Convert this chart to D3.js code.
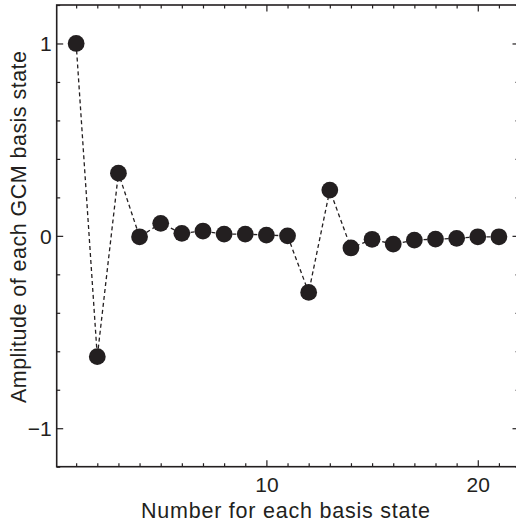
<!DOCTYPE html>
<html>
<head>
<meta charset="utf-8">
<script src="https://cdn.jsdelivr.net/npm/d3@7"></script>
<style>
  html, body { margin: 0; padding: 0; background: #fff; }
  svg { display: block; }
  text { font-family: "Liberation Sans", Arial, Helvetica, sans-serif; fill: #231f20; }
</style>
</head>
<body>
<svg id="chart" width="516" height="527"></svg>
<script>
// Data
const stateNumbers = [1,2,3,4,5,6,7,8,9,10,11,12,13,14,15,16,17,18,19,20,21];
const amplitudes = [1.0, -0.628, 0.326, -0.005, 0.065, 0.013, 0.025, 0.009, 0.009, 0.004, 0.0,
                    -0.294, 0.238, -0.063, -0.018, -0.043, -0.022, -0.017, -0.013, -0.005, -0.005];
const xMajorTicks = [10, 20];
const yMajorTicks = [-1, 0, 1];
const xTitle = "Number for each basis state";
const yTitle = "Amplitude of each GCM basis state";

(function () {
const svg = d3.select("#chart");
const mLeft = 56.7, mRight = 519, mTop = 5, mBottom = 466.7;
const ink = "#231f20";

const x = d3.scaleLinear().domain([0.08, 21.95]).range([mLeft, mRight]);
const y = d3.scaleLinear().domain([-1.2, 1.2]).range([mBottom, mTop]);

const xMinor = d3.range(1, 22);
const yMinor = d3.range(-12, 13, 2).map(v => v / 10);
const isMajY = d => yMajorTicks.some(m => Math.abs(m - d) < 1e-9);

function fmt(d) { return d < 0 ? "\u2212" + Math.abs(d) : String(d); }

const gx = svg.append("g").attr("transform", `translate(0,${mBottom})`);
gx.call(d3.axisBottom(x).tickValues(xMinor).tickSize(-3.5).tickFormat(""));
gx.selectAll(".tick").filter(d => xMajorTicks.includes(d)).select("line").attr("y2", -6.5);
gx.selectAll(".tick").filter(d => xMajorTicks.includes(d)).append("text")
  .attr("y", 25).attr("text-anchor", "middle").attr("font-size", 21).attr("fill", ink)
  .text(d => fmt(d));

const gxt = svg.append("g").attr("transform", `translate(0,${mTop})`);
gxt.call(d3.axisTop(x).tickValues(xMinor).tickSize(-3.5).tickFormat(""));
gxt.selectAll(".tick").filter(d => xMajorTicks.includes(d)).select("line").attr("y2", 6.5);

const gy = svg.append("g").attr("transform", `translate(${mLeft},0)`);
gy.call(d3.axisLeft(y).tickValues(yMinor).tickSize(-3.5).tickFormat(""));
gy.selectAll(".tick").filter(isMajY).select("line").attr("x2", 6.5);
gy.selectAll(".tick").filter(isMajY).append("text")
  .attr("x", -5).attr("dy", "0.35em").attr("text-anchor", "end").attr("font-size", 21).attr("fill", ink)
  .text(d => fmt(Math.round(d)));

const gyr = svg.append("g").attr("transform", `translate(${mRight},0)`);
gyr.call(d3.axisRight(y).tickValues(yMinor).tickSize(-3.5).tickFormat(""));
gyr.selectAll(".tick").filter(isMajY).select("line").attr("x2", -6.5);

svg.selectAll(".domain").remove();
svg.selectAll(".tick line").attr("stroke", ink).attr("stroke-width", 1.2);

svg.append("rect")
  .attr("x", mLeft).attr("y", mTop).attr("width", mRight - mLeft).attr("height", mBottom - mTop)
  .attr("fill", "none").attr("stroke", ink).attr("stroke-width", 1.6);

const pts = stateNumbers.map((n, i) => [n, amplitudes[i]]);
svg.append("path")
  .datum(pts)
  .attr("fill", "none").attr("stroke", ink).attr("stroke-width", 1.3)
  .attr("stroke-dasharray", "4,3")
  .attr("d", d3.line().x(d => x(d[0])).y(d => y(d[1])));

svg.append("g").selectAll("circle").data(pts).join("circle")
  .attr("cx", d => x(d[0])).attr("cy", d => y(d[1])).attr("r", 8.4)
  .attr("fill", ink);

svg.append("text")
  .attr("x", 285.5).attr("y", 518).attr("text-anchor", "middle").attr("font-size", 21.5)
  .attr("textLength", 289).attr("lengthAdjust", "spacing")
  .text(xTitle);
svg.append("text")
  .attr("transform", `translate(25.5,227) rotate(-90)`)
  .attr("text-anchor", "middle").attr("font-size", 21.5)
  .attr("textLength", 352).attr("lengthAdjust", "spacing")
  .text(yTitle);
})();
</script>
</body>
</html>
